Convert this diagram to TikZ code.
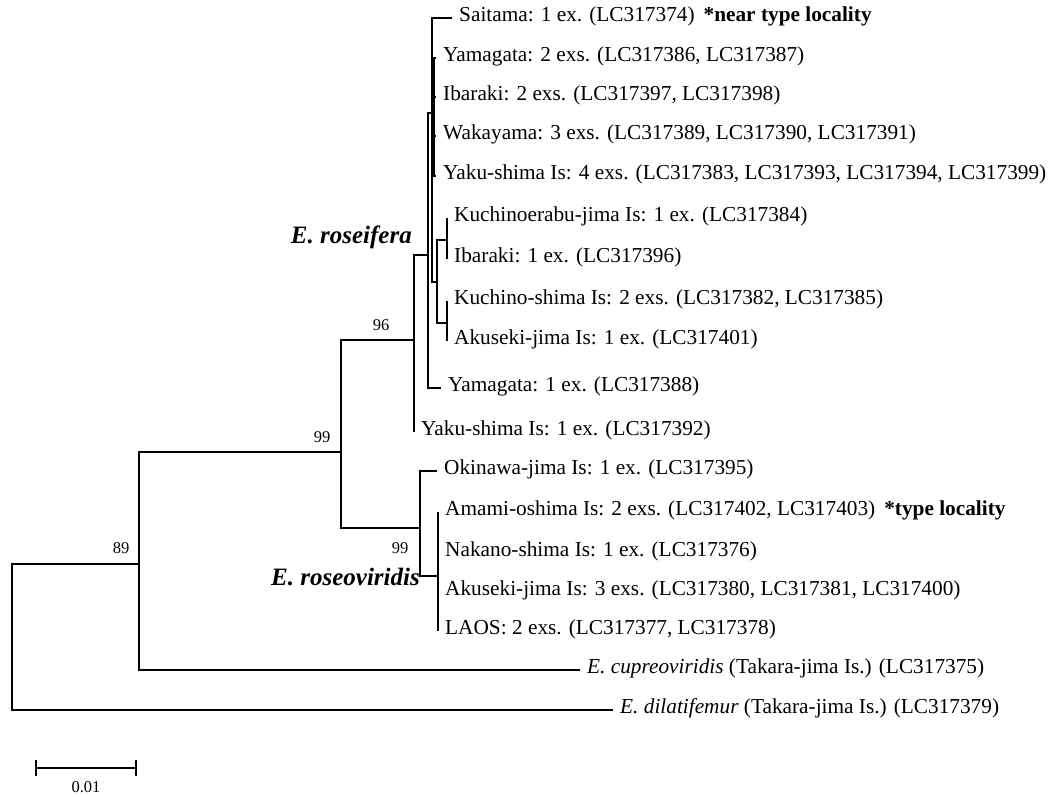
\documentclass[tikz,border=0pt]{standalone}
\usepackage{fontspec}
\setmainfont{Liberation Serif}
\begin{document}
\begin{tikzpicture}[x=1pt,y=-1pt,
  br/.style={line width=1.3pt},
  leaf/.style={anchor=west, inner xsep=7pt, inner ysep=0pt, text height=0.64em, text depth=0pt, font=\fontsize{21.3}{24}\selectfont},
  boot/.style={inner sep=0pt, font=\fontsize{16.5}{18}\selectfont},
  clade/.style={inner sep=0pt, font=\fontsize{25}{28}\selectfont\bfseries\itshape}]
\useasboundingbox (0,0) rectangle (1056,796);

% internal nodes
\coordinate (R) at (12,637);
\coordinate (A) at (139,564);
\coordinate (B) at (341,452);
\coordinate (D) at (414,340);
\coordinate (E) at (428,255);
\coordinate (F) at (432,113);
\coordinate (G) at (434,117);
\coordinate (K) at (437,282);
\coordinate (L) at (447,240);
\coordinate (M) at (447,323);
\coordinate (C) at (420,528);
\coordinate (N) at (438,576);

% leaves
\node[leaf] (sai)  at (452,18)  {Saitama: 1 ex. (LC317374)\hspace{9pt}\textbf{*near type locality}};
\node[leaf] (yam2) at (436,58)  {Yamagata: 2 exs. (LC317386, LC317387)};
\node[leaf] (iba2) at (436,97)  {Ibaraki: 2 exs. (LC317397, LC317398)};
\node[leaf] (wak)  at (436,136) {Wakayama: 3 exs. (LC317389, LC317390, LC317391)};
\node[leaf] (yak4) at (436,176) {Yaku-shima Is: 4 exs. (LC317383, LC317393, LC317394, LC317399)};
\node[leaf] (kuer) at (447,218) {Kuchinoerabu-jima Is: 1 ex. (LC317384)};
\node[leaf] (iba1) at (447,259) {Ibaraki: 1 ex. (LC317396)};
\node[leaf] (kush) at (447,301) {Kuchino-shima Is: 2 exs. (LC317382, LC317385)};
\node[leaf] (aku1) at (447,341) {Akuseki-jima Is: 1 ex. (LC317401)};
\node[leaf] (yam1) at (441,388) {Yamagata: 1 ex. (LC317388)};
\node[leaf] (yak1) at (414,432) {Yaku-shima Is: 1 ex. (LC317392)};
\node[leaf] (oki)  at (437,471) {Okinawa-jima Is: 1 ex. (LC317395)};
\node[leaf] (ama)  at (438,512) {Amami-oshima Is: 2 exs. (LC317402, LC317403)\hspace{9pt}\textbf{*type locality}};
\node[leaf] (nak)  at (438,553) {Nakano-shima Is: 1 ex. (LC317376)};
\node[leaf] (aku3) at (438,592) {Akuseki-jima Is: 3 exs. (LC317380, LC317381, LC317400)};
\node[leaf] (laos) at (438,631) {LAOS: 2 exs. (LC317377, LC317378)};
\node[leaf] (cup)  at (580,670) {\textit{E. cupreoviridis} (Takara-jima Is.) (LC317375)};
\node[leaf] (dil)  at (613,710) {\textit{E. dilatifemur} (Takara-jima Is.) (LC317379)};

% branches
\draw[br] (A) -| (R) |- (dil.west);
\draw[br] (B) -| (A) |- (cup.west);
\draw[br] (D) -| (B) |- (C);
\draw[br] (E) -| (D) |- (yak1.west);
\draw[br] (F) -| (E) |- (yam1.west);
\draw[br] (sai.west) -| (F) |- (K);
\draw[br] (F) -- (G);
\draw[br] (yam2.west) -| (G) |- (yak4.west);
\draw[br] (G) |- (iba2.west);
\draw[br] (G) |- (wak.west);
\draw[br] (L) -| (K) |- (M);
\draw[br] (kuer.west) -| (L) |- (iba1.west);
\draw[br] (kush.west) -| (M) |- (aku1.west);
\draw[br] (oki.west) -| (C) |- (N);
\draw[br] (ama.west) -| (N) |- (laos.west);
\draw[br] (N) |- (nak.west);
\draw[br] (N) |- (aku3.west);

% bootstrap values
\node[boot] (b89) at (121,548) {89};
\node[boot] (b99a) at (322,437) {99};
\node[boot] (b96) at (381,325) {96};
\node[boot] (b99b) at (400,548) {99};

% clade names
\node[clade, anchor=base east] (ros) at (412,243) {E. roseifera};
\node[clade, anchor=base east] (rov) at (420,585) {E. roseoviridis};

% scale bar
\coordinate (sbl) at (36,768);
\coordinate (sbr) at (136,768);
\draw[br] (sbl) -- (sbr);
\draw[br] ([yshift=-8pt]sbl) -- ([yshift=8pt]sbl);
\draw[br] ([yshift=-8pt]sbr) -- ([yshift=8pt]sbr);
\node[boot] (sbt) at (86,787) {0.01};
\end{tikzpicture}
\end{document}
